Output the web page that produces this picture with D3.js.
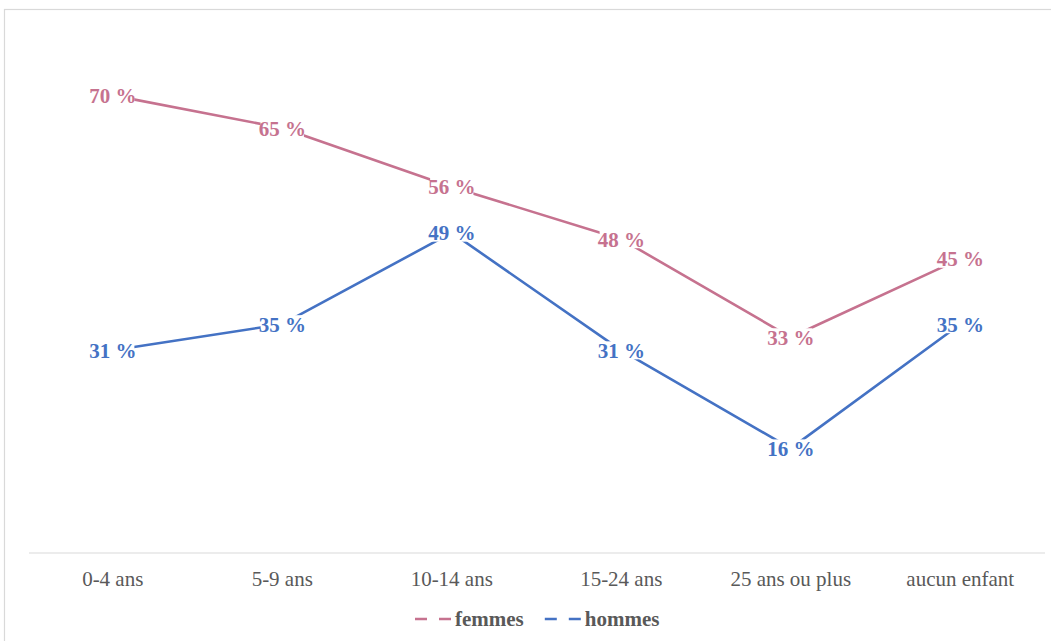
<!DOCTYPE html>
<html>
<head>
<meta charset="utf-8">
<script src="https://cdn.jsdelivr.net/npm/d3@7"></script>
<style>
  html, body { margin: 0; padding: 0; background: #ffffff; }
  svg { display: block; }
</style>
</head>
<body>
<svg id="chart" width="1051" height="641"></svg>
<script>
const categories = ["0-4 ans", "5-9 ans", "10-14 ans", "15-24 ans", "25 ans ou plus", "aucun enfant"];
const femmes = [70, 65, 56, 48, 33, 45];
const hommes = [31, 35, 49, 31, 16, 35];
const seriesNames = ["femmes", "hommes"];
const seriesColors = ["#C6728F", "#4472C4"];

const series = [
  { name: seriesNames[0], values: femmes, color: seriesColors[0] },
  { name: seriesNames[1], values: hommes, color: seriesColors[1] }
];

const svg = d3.select("#chart");
const W = 1051, H = 641;

svg.append("rect").attr("x", 0).attr("y", 0).attr("width", W).attr("height", H).attr("fill", "#fff");
// outer frame
svg.append("rect").attr("x", 4.5).attr("y", 9.5).attr("width", 1200).attr("height", 800)
  .attr("fill", "none").attr("stroke", "#d9d9d9").attr("stroke-width", 1.2);

const x = d3.scaleBand().domain(categories).range([28, 1045]).padding(0);
const y = d3.scaleLinear().domain([0, 80]).range([553, 30]);
const cx = c => x(c) + x.bandwidth() / 2;

// axis
const axis = d3.axisBottom(x).tickSize(0).tickPadding(0);
const gx = svg.append("g").attr("transform", "translate(0,553)").call(axis);
gx.select(".domain").attr("stroke", "#d9d9d9").attr("stroke-width", 1.2).attr("d", "M29,0H1045");
gx.selectAll(".tick text")
  .attr("y", 33)
  .attr("dy", 0)
  .attr("font-family", "'Liberation Serif', 'Times New Roman', serif")
  .attr("font-size", 21)
  .attr("fill", "#595959");

// lines
const line = d3.line().x((d, i) => cx(categories[i])).y(d => y(d));
series.forEach(s => {
  svg.append("path").datum(s.values)
    .attr("d", line)
    .attr("fill", "none")
    .attr("stroke", s.color)
    .attr("stroke-width", 2.6)
    .attr("stroke-linejoin", "round");
});

// labels
series.forEach(s => {
  const g = svg.append("g");
  s.values.forEach((v, i) => {
    const px = cx(categories[i]), py = y(v);
    const bg = g.append("rect");
    const t = g.append("text")
      .attr("x", px).attr("y", py + 7.5)
      .attr("text-anchor", "middle")
      .attr("font-family", "'Liberation Serif', 'Times New Roman', serif")
      .attr("font-weight", "bold")
      .attr("font-size", 21)
      .attr("fill", s.color)
      .text(v + " %");
    const w = t.node().getComputedTextLength();
    bg.attr("x", px - w / 2 + 2).attr("y", py - 9)
      .attr("width", w - 4).attr("height", 18)
      .attr("fill", "#fff");
  });
});

// legend
let lx = 415;
const ly = 619;
series.forEach(s => {
  svg.append("line")
    .attr("x1", lx).attr("x2", lx + 37).attr("y1", ly).attr("y2", ly)
    .attr("stroke", s.color).attr("stroke-width", 2.6)
    .attr("stroke-dasharray", "12,12");
  const t = svg.append("text")
    .attr("x", lx + 40).attr("y", ly + 7)
    .attr("font-family", "'Liberation Serif', 'Times New Roman', serif")
    .attr("font-weight", "bold")
    .attr("font-size", 21)
    .attr("fill", "#595959")
    .text(s.name);
  lx = lx + 40 + t.node().getComputedTextLength() + 21;
});
</script>
</body>
</html>
